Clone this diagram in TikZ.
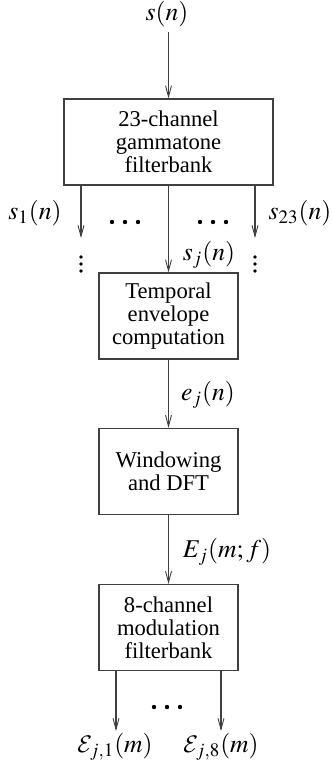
\documentclass[tikz,border=0pt]{standalone}
\usepackage{mathptmx}
\usepackage{fontspec}
\setmainfont{Liberation Serif}
\DeclareMathAlphabet{\mathcal}{OMS}{cmsy}{m}{n}
\usetikzlibrary{arrows.meta}
\tikzset{
  blk/.style={draw=black!75, line width=0.6pt, align=center, inner sep=1pt,
    font=\fontsize{11.3}{11.6}\selectfont},
  wide/.style={blk, minimum width=104.5pt, minimum height=43pt},
  narrow/.style={blk, minimum width=69.5pt, minimum height=43pt},
  lab/.style={inner sep=2pt, font=\fontsize{12.8}{14}\selectfont},
  arr/.style={draw=black!75, line width=0.6pt, -{Straight Barb[length=5.5pt,width=3pt,line width=0.45pt]}},
  dotc/.style={fill=black, draw=none}
}
\begin{document}
\begin{tikzpicture}[x=0.5pt,y=-0.5pt]
\useasboundingbox (0,0) rectangle (331,763);
\node[lab] (sn) at (167,14) {$s(n)$};
\node[wide] (fb) at (168.5,142) {23-channel\\gammatone\\filterbank};
\node[narrow] (te) at (168.5,316) {Temporal\\envelope\\computation};
\node[narrow] (wd) at (168.5,471.5) {Windowing\\and DFT};
\node[narrow] (mf) at (168.5,627.5) {8-channel\\modulation\\filterbank};

\coordinate (c1) at (81,238);
\coordinate (c23) at (255,238);
\coordinate (s0) at (168.5,32);
\draw[arr] (s0) -- (fb.north);
\draw[arr] (fb.south -| c1) -- (c1);
\draw[arr] (fb.south -| c23) -- (c23);
\draw[arr] (fb.south) -- (te.north);
\draw[arr] (te.south) -- (wd.north);
\draw[arr] (wd.south) -- (mf.north);

\node[lab] (l1) at (35,213) {$s_1(n)$};
\node[lab] (l23) at (300,213) {$s_{23}(n)$};
\node[lab] (lj) at (209,255) {$s_j(n)$};
\node[lab] (le) at (208,395) {$e_j(n)$};
\node[lab] (lE) at (227,552) {$E_j(m;f)$};

\node[lab] (o1) at (115,747) {$\mathcal{E}_{j,1}(m)$};
\node[lab] (o8) at (221,747) {$\mathcal{E}_{j,8}(m)$};
\coordinate (e1) at (116,731);
\coordinate (e8) at (221,731);
\draw[arr] (mf.south -| e1) -- (e1);
\draw[arr] (mf.south -| e8) -- (e8);

% horizontal dots
\foreach \cx in {112,125,138,200,213,226} \fill[dotc] (\cx,222) circle (1.1pt);
\foreach \cx in {154,167,180} \fill[dotc] (\cx,707) circle (1.1pt);
% vertical dots
\foreach \cy in {257,264,271} {\fill[dotc] (81,\cy) circle (0.9pt); \fill[dotc] (255,\cy) circle (0.9pt);}
\end{tikzpicture}
\end{document}
